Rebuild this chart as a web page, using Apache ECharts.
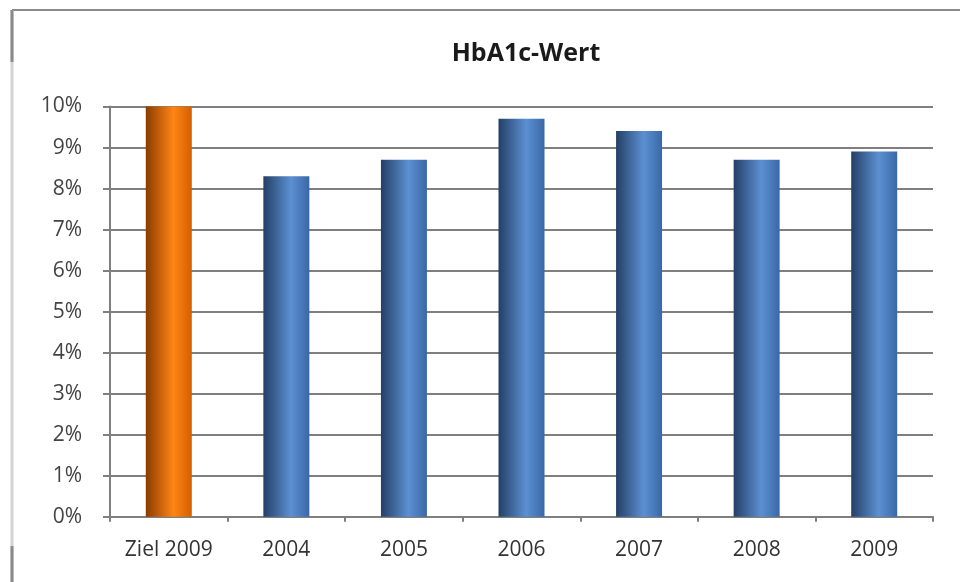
<!DOCTYPE html>
<html>
<head>
<meta charset="utf-8">
<script src="https://cdn.jsdelivr.net/npm/echarts@6/dist/echarts.min.js"></script>
<style>html,body{margin:0;padding:0;background:#fff}#c{width:960px;height:582px}</style>
</head>
<body>
<div id="c"></div>
<script>
const categories = ['Ziel 2009', '2004', '2005', '2006', '2007', '2008', '2009'];
const values = [10, 8.3, 8.7, 9.7, 9.4, 8.7, 8.9];
const yTicks = [0, 1, 2, 3, 4, 5, 6, 7, 8, 9, 10];
const titleText = 'HbA1c-Wert';

function grad(c0, c1, c2) {
  return new echarts.graphic.LinearGradient(0, 0, 1, 0, [
    {offset: 0, color: c0}, {offset: 0.6, color: c1}, {offset: 1, color: c2}
  ]);
}
const blue = grad('#243f66', '#5c90d2', '#3a68a6');
const orange = grad('#8a3c00', '#ff8515', '#d45f00');

const chart = echarts.init(document.getElementById('c'), null, {renderer: 'canvas'});
chart.setOption({
  animation: false,
  backgroundColor: '#fff',
  title: {
    text: titleText, left: 521, top: 36, textAlign: 'center',
    textStyle: {fontFamily: 'Open Sans', fontWeight: 'bold', fontSize: 25, color: '#1a1a1a'}
  },
  graphic: [
    {type: 'line', shape: {x1: 12, y1: 10, x2: 960, y2: 10}, style: {stroke: '#8a8a8a', lineWidth: 2}},
    {type: 'line', shape: {x1: 12, y1: 10, x2: 12, y2: 582}, style: {stroke: '#d4d4d4', lineWidth: 3}},
    {type: 'line', shape: {x1: 12, y1: 10, x2: 12, y2: 62}, style: {stroke: '#8a8a8a', lineWidth: 3}},
    {type: 'line', shape: {x1: 12, y1: 546, x2: 12, y2: 582}, style: {stroke: '#8a8a8a', lineWidth: 3}}
  ],
  grid: {left: 110, right: 27, top: 106.5, bottom: 65.3, containLabel: false},
  xAxis: {
    type: 'category', data: categories,
    axisLine: {lineStyle: {color: '#7f7f7f', width: 2}},
    axisTick: {show: true, length: 5, interval: 0, lineStyle: {color: '#7f7f7f', width: 2}},
    axisLabel: {interval: 0, margin: 23, fontFamily: 'Open Sans', fontSize: 21, color: '#333'}
  },
  yAxis: {
    type: 'value', min: 0, max: 10, interval: 1,
    axisLine: {show: true, lineStyle: {color: '#7f7f7f', width: 2}},
    axisTick: {show: true, length: 7, lineStyle: {color: '#7f7f7f', width: 2}},
    splitLine: {lineStyle: {color: '#7f7f7f', width: 2}},
    axisLabel: {margin: 28, fontFamily: 'Open Sans', fontSize: 21, color: '#444',
      formatter: v => (yTicks.indexOf(v) >= 0 ? v + '%' : '')}
  },
  series: [{
    type: 'bar', barWidth: 46,
    data: values.map((v, i) => ({value: v, itemStyle: {color: i === 0 ? orange : blue}}))
  }]
});
</script>
</body>
</html>
